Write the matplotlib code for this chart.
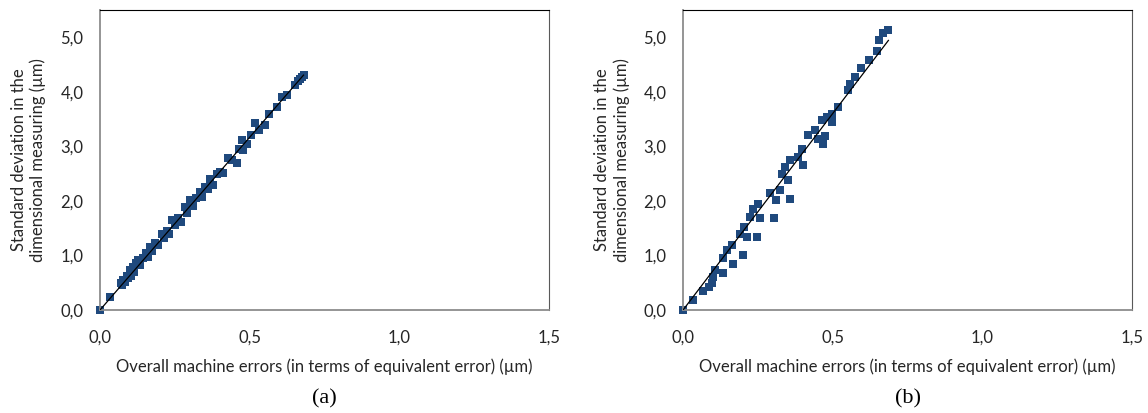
import numpy as np
import matplotlib.pyplot as plt

# (a) left panel
left_x = [0.0, 0.034, 0.070, 0.075, 0.078, 0.085, 0.090, 0.095, 0.100, 0.105, 0.110,
          0.115, 0.120, 0.128, 0.135, 0.145, 0.155, 0.160, 0.167, 0.175, 0.185, 0.195,
          0.206, 0.215, 0.225, 0.232, 0.240, 0.250, 0.260, 0.270, 0.284, 0.292, 0.300,
          0.310, 0.320, 0.334, 0.342, 0.350, 0.360, 0.368, 0.378, 0.390, 0.400, 0.410,
          0.429, 0.440, 0.457, 0.463, 0.473, 0.479, 0.490, 0.505, 0.518, 0.530, 0.551,
          0.565, 0.590, 0.607, 0.625, 0.650, 0.660, 0.668, 0.675, 0.680]
left_y = [0.00, 0.23, 0.50, 0.45, 0.55, 0.52, 0.62, 0.58, 0.73, 0.62, 0.78,
          0.70, 0.86, 0.92, 0.82, 0.95, 1.05, 0.98, 1.16, 1.08, 1.22, 1.20,
          1.40, 1.32, 1.45, 1.40, 1.65, 1.55, 1.68, 1.62, 1.89, 1.78, 2.01,
          1.90, 2.05, 2.17, 2.08, 2.25, 2.22, 2.41, 2.30, 2.50, 2.53, 2.52,
          2.78, 2.75, 2.69, 2.95, 3.11, 2.93, 3.05, 3.20, 3.42, 3.30, 3.39,
          3.60, 3.72, 3.91, 3.95, 4.12, 4.20, 4.24, 4.27, 4.30]

# (b) right panel
right_x = [0.0, 0.034, 0.068, 0.085, 0.096, 0.101, 0.107, 0.135, 0.168, 0.135, 0.146,
           0.163, 0.200, 0.191, 0.202, 0.213, 0.246, 0.224, 0.235, 0.257, 0.251, 0.290,
           0.304, 0.312, 0.323, 0.329, 0.340, 0.351, 0.358, 0.357, 0.385, 0.396, 0.401,
           0.419, 0.441, 0.452, 0.469, 0.474, 0.463, 0.480, 0.496, 0.496, 0.518, 0.552,
           0.557, 0.574, 0.596, 0.621, 0.649, 0.655, 0.669, 0.686]
right_y = [0.00, 0.18, 0.34, 0.43, 0.49, 0.61, 0.73, 0.68, 0.84, 0.95, 1.10,
           1.19, 1.01, 1.40, 1.53, 1.34, 1.34, 1.71, 1.86, 1.68, 1.95, 2.14,
           1.69, 2.01, 2.20, 2.50, 2.62, 2.38, 2.03, 2.75, 2.81, 2.96, 2.66,
           3.21, 3.30, 3.14, 3.04, 3.19, 3.48, 3.54, 3.45, 3.60, 3.72, 4.03,
           4.15, 4.27, 4.43, 4.58, 4.74, 4.95, 5.07, 5.14]

xticks = [0.0, 0.5, 1.0, 1.5]
yticks = [0, 1, 2, 3, 4, 5]
xlabel = "Overall machine errors (in terms of equivalent error) (\u00b5m)"
ylabel = "Standard deviation in the\ndimensional measuring (\u00b5m)"
panels = ["(a)", "(b)"]

blue = "#1F497D"
plt.rcParams['font.family'] = ['Lato', 'DejaVu Sans']

fig = plt.figure(figsize=(11.48, 4.13), dpi=100)
boxes = [[0.0871, 0.2494, 0.3911, 0.7264], [0.5950, 0.2494, 0.3911, 0.7264]]

for box, xs, ys, tag in zip(boxes, [left_x, right_x], [left_y, right_y], panels):
    ax = fig.add_axes(box)
    ax.scatter(xs, ys, marker='s', s=36, color=blue, linewidths=0, zorder=2, clip_on=False)
    # linear trend line through the origin
    xa, ya = np.array(xs), np.array(ys)
    k = (xa * ya).sum() / (xa * xa).sum()
    xx = np.array([0, xa.max()])
    ax.plot(xx, k * xx, color='black', lw=0.9, zorder=3)
    ax.set_xlim(0, 1.5)
    ax.set_ylim(0, 5.5)
    ax.set_xticks(xticks)
    ax.set_xticklabels([f"{t:.1f}".replace('.', ',') for t in xticks])
    ax.set_yticks(yticks)
    ax.set_yticklabels([f"{t:.1f}".replace('.', ',') for t in yticks])
    ax.tick_params(length=0, labelsize=12, colors='#262626')
    ax.tick_params(axis='y', pad=12)
    ax.tick_params(axis='x', pad=14)
    for s in ['left', 'bottom']:
        ax.spines[s].set_color('#8c8c8c')
        ax.spines[s].set_linewidth(1.3)
    ax.spines['top'].set_color('black')
    ax.spines['right'].set_color('#595959')
    ax.set_xlabel(xlabel, fontsize=12, color='#262626', labelpad=9)
    ax.set_ylabel(ylabel, fontsize=12, color='#262626', labelpad=10)
    ax.text(0.5, -0.295, tag, transform=ax.transAxes, ha='center', va='center',
            fontsize=16, family='Liberation Serif')

fig.savefig("out.png", dpi=100)
